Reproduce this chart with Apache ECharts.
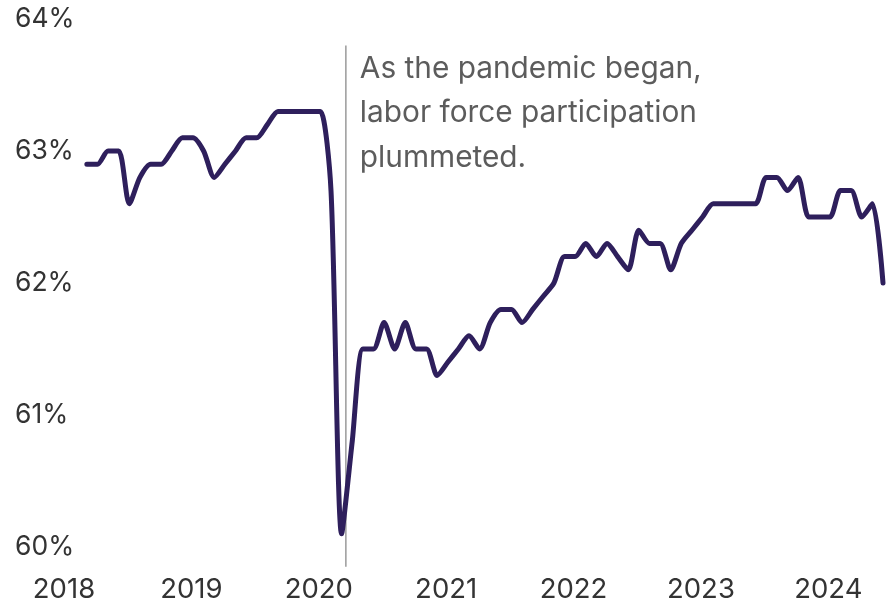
<!DOCTYPE html>
<html>
<head>
<meta charset="utf-8">
<script src="https://cdn.jsdelivr.net/npm/echarts@6/dist/echarts.min.js"></script>
<style>
  html, body { margin: 0; padding: 0; background: #ffffff; }
  #chart { width: 886px; height: 604px; }
</style>
</head>
<body>
<div id="chart"></div>
<script>
// Month index counted from Jan 2018 = 0
const firstMonth = 3; // Apr 2018
const participation = [
  // 2018 Apr-Dec
  62.9, 62.9, 63.0, 63.0, 62.6, 62.8, 62.9, 62.9, 63.0,
  // 2019
  63.1, 63.1, 63.0, 62.8, 62.9, 63.0, 63.1, 63.1, 63.2, 63.3, 63.3, 63.3,
  // 2020
  63.3, 63.3, 62.7, 60.1, 60.8, 61.5, 61.5, 61.7, 61.5, 61.7, 61.5, 61.5,
  // 2021
  61.3, 61.4, 61.5, 61.6, 61.5, 61.7, 61.8, 61.8, 61.7, 61.8, 61.9, 62.0,
  // 2022
  62.2, 62.2, 62.3, 62.2, 62.3, 62.2, 62.1, 62.4, 62.3, 62.3, 62.1, 62.3,
  // 2023
  62.4, 62.5, 62.6, 62.6, 62.6, 62.6, 62.6, 62.8, 62.8, 62.7, 62.8, 62.5,
  // 2024 Jan-Jul
  62.5, 62.5, 62.7, 62.7, 62.5, 62.6, 62.0
];
const yearLabels = ['2018', '2019', '2020', '2021', '2022', '2023', '2024'];
const yTicks = [60, 61, 62, 63, 64];
const annotationMonth = 27.4;
const annotationText = ['As the pandemic began,', 'labor force participation', 'plummeted.'];

const seriesData = participation.map((v, i) => [firstMonth + i, v]);
const lastMonth = firstMonth + participation.length - 1;

const chart = echarts.init(document.getElementById('chart'), null, { renderer: 'canvas' });
const fontFamily = 'Inter, "Liberation Sans", Arial, sans-serif';

chart.setOption({
  backgroundColor: '#ffffff',
  animation: false,
  grid: { left: 55, right: 3, top: 19, bottom: 54 },
  xAxis: {
    type: 'value',
    min: 0,
    max: lastMonth,
    interval: 12,
    axisLine: { show: false },
    axisTick: { show: false },
    splitLine: { show: false },
    axisLabel: {
      margin: 29,
      fontSize: 27.5,
      fontFamily: fontFamily,
      color: '#333333',
      align: 'center',
      padding: [0, 0, 0, 18],
      showMaxLabel: false,
      formatter: function (v) { return yearLabels[Math.round(v / 12)] || ''; }
    }
  },
  yAxis: {
    type: 'value',
    min: yTicks[0],
    max: yTicks[yTicks.length - 1],
    interval: 1,
    axisLine: { show: false },
    axisTick: { show: false },
    splitLine: { show: false },
    axisLabel: {
      align: 'left',
      margin: 40,
      fontSize: 26.5,
      fontFamily: fontFamily,
      color: '#333333',
      formatter: '{value}%'
    }
  },
  series: [{
    type: 'line',
    data: seriesData,
    showSymbol: false,
    smooth: 0.25,
    lineStyle: { color: '#2e1f5c', width: 5, cap: 'round', join: 'round' }
  }]
});

function drawAnnotation() {
  const top = chart.convertToPixel({ xAxisIndex: 0, yAxisIndex: 0 }, [annotationMonth, 63.8]);
  const bottom = chart.convertToPixel({ xAxisIndex: 0, yAxisIndex: 0 }, [annotationMonth, 59.85]);
  chart.setOption({
    graphic: [
      {
        type: 'line',
        shape: { x1: top[0], y1: top[1], x2: bottom[0], y2: bottom[1] },
        style: { stroke: '#9a9a9a', lineWidth: 1.5 },
        z: 1
      },
      {
        type: 'text',
        x: top[0] + 14,
        y: top[1] + 1,
        style: {
          text: annotationText.join('\n'),
          font: '29.8px ' + fontFamily,
          fill: '#5c5c5c',
          lineHeight: 44.5,
          textVerticalAlign: 'top'
        },
        z: 5
      }
    ]
  });
}
drawAnnotation();
</script>
</body>
</html>
